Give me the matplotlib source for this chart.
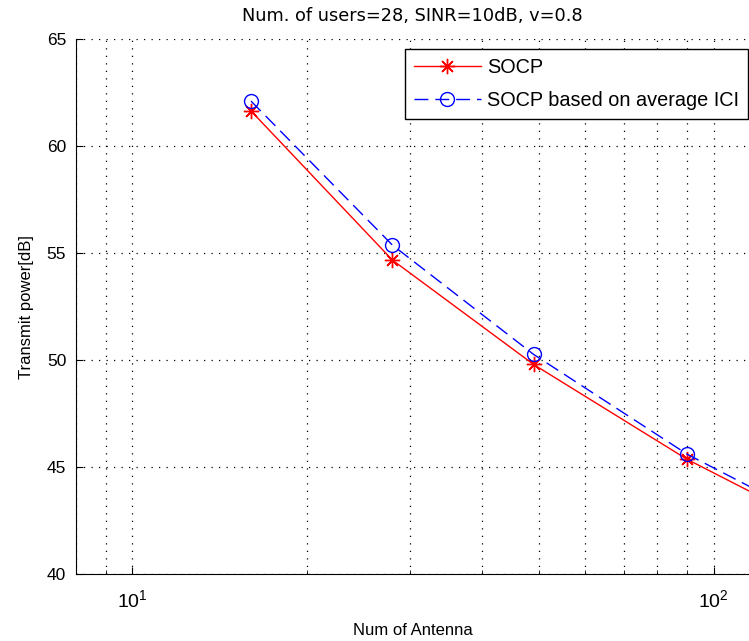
# coding:utf-8
# 送信電力とアンテナ数の関係（SOCP と 平均ICI に基づく SOCP）

import matplotlib
matplotlib.use('Agg')
import matplotlib.pyplot as plt
from matplotlib.ticker import LogLocator, NullFormatter

plt.rcParams['font.family'] = ['Liberation Sans', 'DejaVu Sans']
plt.rcParams['mathtext.fontset'] = 'custom'
plt.rcParams['mathtext.rm'] = 'Liberation Sans'

antennas = [16, 28, 49, 90, 160]
power_socp = [61.64, 54.68, 49.80, 45.37, 41.9]
power_avg_ici = [62.10, 55.38, 50.27, 45.61, 42.1]

title = 'Num. of users=28, SINR=10dB, v=0.8'
xlabel = 'Num of Antenna'
ylabel = 'Transmit power[dB]'
legend_labels = ['SOCP', 'SOCP based on average ICI']

fig = plt.figure(figsize=(7.49, 6.41), dpi=100)
ax = fig.add_axes([76 / 749, 66.7 / 641, 1 - 76 / 749, 535.3 / 641])

# アスタリスク（8本線）
asterisk = (8, 2, 0)
ax.semilogx(antennas, power_socp, 'r-', marker=asterisk, markersize=11,
            markeredgewidth=1.0, linewidth=1.0, label=legend_labels[0])
ax.semilogx(antennas, power_avg_ici, 'b--', marker='o', markersize=10,
            markerfacecolor='none', markeredgewidth=1.0, linewidth=1.0,
            dashes=(10, 5), label=legend_labels[1])

ax.set_xlim(8, 115)
ax.set_ylim(40, 65)
ax.set_yticks([40, 45, 50, 55, 60, 65])
ax.xaxis.set_major_locator(LogLocator(base=10))
ax.xaxis.set_minor_locator(LogLocator(base=10, subs=range(2, 10)))
ax.xaxis.set_minor_formatter(NullFormatter())

ax.grid(True, which='major', linestyle=(0, (1, 5)), color='k', linewidth=0.9)
ax.grid(True, which='minor', axis='x', linestyle=(0, (1, 5)), color='k', linewidth=0.9)

ax.spines['top'].set_visible(False)
ax.spines['right'].set_visible(False)
ax.tick_params(which='both', direction='in', top=False, right=False)
ax.tick_params(axis='y', which='major', length=5, labelsize=12.5, pad=7)
ax.tick_params(axis='x', which='major', length=5, labelsize=14, pad=11)
ax.tick_params(which='minor', length=3)

ax.set_title(title, fontsize=12.8, pad=13, family='DejaVu Sans')
ax.set_xlabel(xlabel, fontsize=12, labelpad=8)
ax.set_ylabel(ylabel, fontsize=12, labelpad=9)

leg = ax.legend(loc='upper right', bbox_to_anchor=(748 / 749, 592 / 641),
                bbox_transform=fig.transFigure, fontsize=14.3, fancybox=False,
                edgecolor='k', framealpha=1, borderpad=0.45, handlelength=3.4,
                labelspacing=0.72, handletextpad=0.3, borderaxespad=0)
leg.get_frame().set_linewidth(1.0)

fig.savefig('out.png', dpi=100)
